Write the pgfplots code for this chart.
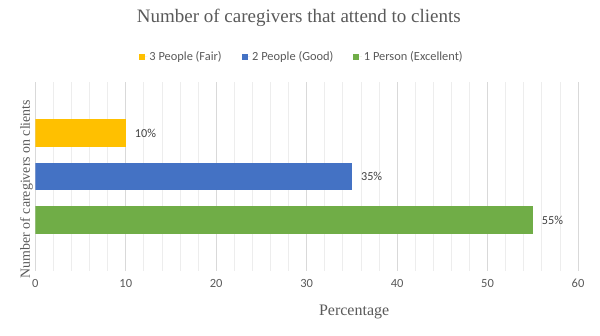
\documentclass[border=0pt]{standalone}
\usepackage{pgfplots}
\pgfplotsset{compat=1.18}
\usepackage{fontspec}
\setmainfont{Liberation Serif}
\newfontfamily\calibri{Carlito}
\definecolor{cYellow}{HTML}{FFC000}
\definecolor{cBlue}{HTML}{4472C4}
\definecolor{cGreen}{HTML}{70AD47}
\definecolor{cMajor}{HTML}{D9D9D9}
\definecolor{cMinor}{HTML}{EDEDED}
\definecolor{cTick}{HTML}{595959}
\definecolor{cLabel}{HTML}{404040}
\definecolor{cTitle}{HTML}{595959}
\begin{document}
\begin{tikzpicture}
\useasboundingbox (-35.3pt,-65pt) rectangle (564.7pt,271pt);
\begin{axis}[
  anchor=south west, at={(0,0)},
  scale only axis,
  width=542.7pt, height=189pt,
  xbar, bar shift=0pt, bar width=27.7pt,
  xmin=0, xmax=60, ymin=-1.17, ymax=3.17,
  xtick={0,10,...,60},
  minor x tick num=4,
  ytick=\empty,
  xmajorgrids, xminorgrids,
  major grid style={draw=cMajor, line width=0.8pt},
  minor grid style={draw=cMinor, line width=0.8pt},
  major tick length=0pt, minor tick length=0pt,
  axis line style={draw=none},
  /pgf/number format/assume math mode=true,
  tick label style={font=\calibri\fontsize{12.5}{14}\selectfont, text=cTick},
  xticklabel style={yshift=-5pt},
  title={Number of caregivers that attend to clients},
  every axis title/.style={font=\fontsize{19}{22}\selectfont, text=cTitle, at={(axis description cs:0.4856,1.316)}, anchor=base},
  xlabel={Percentage},
  xlabel style={font=\fontsize{16}{19}\selectfont, text=cTitle, at={(axis description cs:0.5875,-0.215)}, anchor=center},
  ylabel={Number of caregivers on clients},
  ylabel style={font=\fontsize{13.9}{16}\selectfont, text=cTitle, at={(axis description cs:-0.0162,0.434)}, anchor=center, rotate=0},
  nodes near coords={\pgfmathprintnumber{\pgfplotspointmeta}\%},
  point meta=x,
  nodes near coords style={anchor=west, inner sep=0pt, xshift=9pt, font=\calibri\fontsize{12.2}{14}\selectfont, text=cLabel},
  legend columns=3,
  legend image code/.code={\fill[#1] (0pt,-3pt) rectangle (6pt,3pt); \path (6pt,0pt) -- (8.5pt,0pt);},
  legend style={draw=none, fill=none, inner sep=0pt, outer sep=0pt,
    at={(axis description cs:0.191,1.133)}, anchor=west,
    font=\calibri\fontsize{12.4}{14}\selectfont, text=cTick,
    nodes={inner sep=2pt},
    /tikz/every even column/.append style={column sep=18pt}},
]
\addplot[fill=cYellow, draw=none] coordinates {(10,2)};
\addlegendentry{3 People (Fair)}
\addplot[fill=cBlue, draw=none] coordinates {(35,1)};
\addlegendentry{2 People (Good)}
\addplot[fill=cGreen, draw=none] coordinates {(55,0)};
\addlegendentry{1 Person (Excellent)}
\end{axis}
\end{tikzpicture}
\end{document}
